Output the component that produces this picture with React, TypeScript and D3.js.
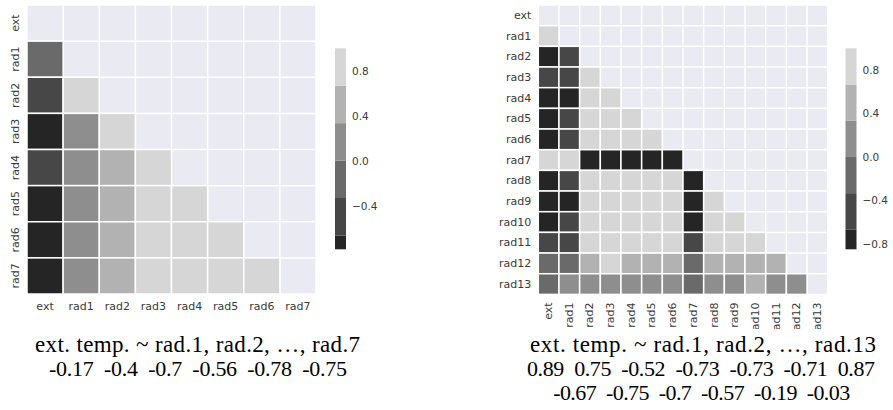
import * as d3 from 'd3';

// lower-triangle correlations, row i holds corr with vars[0..i-1]
const leftVars = ['ext', 'rad1', 'rad2', 'rad3', 'rad4', 'rad5', 'rad6', 'rad7'];
const leftCorr: number[][] = [
  [],
  [-0.17],
  [-0.4, 0.8],
  [-0.7, 0.2, 0.85],
  [-0.56, 0.25, 0.5, 0.9],
  [-0.78, 0.2, 0.5, 0.9, 0.9],
  [-0.75, 0.2, 0.5, 0.88, 0.9, 0.9],
  [-0.79, 0.25, 0.5, 0.85, 0.88, 0.9, 0.92],
];

const rightVars = ['ext', 'rad1', 'rad2', 'rad3', 'rad4', 'rad5', 'rad6', 'rad7',
  'rad8', 'rad9', 'rad10', 'rad11', 'rad12', 'rad13'];
const rightCorr: number[][] = [
  [],
  [0.89],
  [-0.85, -0.6],
  [-0.52, -0.55, 0.8],
  [-0.73, -0.75, 0.85, 0.9],
  [-0.73, -0.6, 0.85, 0.9, 0.9],
  [-0.71, -0.6, 0.8, 0.85, 0.9, 0.9],
  [0.87, 0.75, -0.8, -0.8, -0.8, -0.78, -0.8],
  [-0.67, -0.6, 0.85, 0.85, 0.85, 0.85, 0.85, -0.8],
  [-0.75, -0.7, 0.85, 0.85, 0.85, 0.85, 0.85, -0.78, 0.9],
  [-0.7, -0.6, 0.85, 0.85, 0.85, 0.85, 0.85, -0.75, 0.9, 0.9],
  [-0.57, -0.55, 0.8, 0.8, 0.8, 0.8, 0.8, -0.6, 0.85, 0.85, 0.85],
  [-0.19, -0.2, 0.5, 0.7, 0.5, 0.55, 0.5, -0.25, 0.55, 0.55, 0.5, 0.5],
  [-0.03, 0.2, 0.2, 0.15, 0.2, 0.2, 0.2, -0.1, 0.25, 0.25, 0.45, 0.2, 0.25],
];

const leftCaption = [
  'ext. temp. ~ rad.1, rad.2, …, rad.7',
  '-0.17  -0.4  -0.7  -0.56  -0.78  -0.75',
];
const rightCaption = [
  'ext. temp. ~ rad.1, rad.2, …, rad.13',
  '0.89  0.75  -0.52  -0.73  -0.73  -0.71  0.87',
  '-0.67  -0.75  -0.7  -0.57  -0.19  -0.03',
];

const bandEdges = [-1, -2 / 3, -1 / 3, 0, 1 / 3, 2 / 3, 1];
const greys = ['#252525', '#474747', '#6a6a6a', '#8e8e8e', '#b2b2b2', '#d6d6d6'];
const cbTicks = [0.8, 0.4, 0.0, -0.4, -0.8];

const color = d3.scaleThreshold<number, string>()
  .domain(bandEdges.slice(1, -1))
  .range(greys);

const fmt = d3.format('.1f');
const labelFont = '"DejaVu Sans", sans-serif';
const textCol = '#3a3a3a';

interface Caption {
  lines: string[];
  cx: number[];
  widths: number[];
  baselines: number[];
}

interface PanelProps {
  vars: string[];
  corr: number[][];
  x0: number;
  size: number;
  cbX: number;
  vmin: number;
  rotateX: boolean;
  caption: Caption;
  maskLeft: number;
}

const Panel = ({ vars, corr, x0, size, cbX, vmin, rotateX, caption, maskLeft }: PanelProps) => {
  const y0 = 5;
  const x = d3.scaleBand().domain(vars).range([x0, x0 + size]);
  const y = d3.scaleBand().domain(vars).range([y0, y0 + size]);
  const bw = x.bandwidth();

  const cells: { r: string; c: string; v: number }[] = [];
  corr.forEach((row, i) => row.forEach((v, j) => cells.push({ r: vars[i], c: vars[j], v })));

  // colorbar
  const cbTop = 48.3, cbBottom = 249.3, cbW = 11;
  const cy = d3.scaleLinear().domain([vmin, 1]).range([cbBottom, cbTop]);
  const bands = d3.range(greys.length)
    .map((i) => ({ lo: Math.max(bandEdges[i], vmin), hi: bandEdges[i + 1], c: greys[i] }))
    .filter((b) => b.hi > vmin);

  const edges = d3.range(vars.length + 1).map((i) => x0 + i * bw);

  return (
    <g>
      <rect x={x0} y={y0} width={size} height={size} fill='#eaeaf2' />
      {edges.map((e, i) => (
        <g key={'g' + i}>
          <line x1={e} x2={e} y1={y0} y2={y0 + size} stroke='#fff' strokeWidth={1.5} />
          <line x1={x0} x2={x0 + size} y1={y0 + i * bw} y2={y0 + i * bw} stroke='#fff' strokeWidth={1.5} />
        </g>
      ))}
      {cells.map((d) => (
        <rect key={d.r + d.c} x={x(d.c)} y={y(d.r)} width={bw} height={bw}
          fill={color(d.v)} stroke='#fff' strokeWidth={1.5} />
      ))}

      {/* y labels */}
      {vars.map((v) => rotateX ? (
        <text key={'y' + v} x={x0 - 7} y={(y(v) as number) + bw / 2} textAnchor='end'
          dominantBaseline='central' fontSize={11} fontFamily={labelFont} fill={textCol}>{v}</text>
      ) : (
        <text key={'y' + v} transform={`translate(15,${(y(v) as number) + bw / 2}) rotate(-90)`}
          textAnchor='middle' dominantBaseline='central' fontSize={11} fontFamily={labelFont}
          fill={textCol}>{v}</text>
      ))}

      {/* x labels */}
      {vars.map((v) => rotateX ? (
        <text key={'x' + v} transform={`translate(${(x(v) as number) + bw / 2},${y0 + size + 8}) rotate(-90)`}
          textAnchor='end' dominantBaseline='central' fontSize={11} fontFamily={labelFont}
          fill={textCol}>{v}</text>
      ) : (
        <text key={'x' + v} x={(x(v) as number) + bw / 2} y={y0 + size + 12} textAnchor='middle'
          dominantBaseline='central' fontSize={11} fontFamily={labelFont} fill={textCol}>{v}</text>
      ))}

      {/* colorbar */}
      {bands.map((b, i) => (
        <rect key={'b' + i} x={cbX} y={cy(b.hi)} width={cbW} height={cy(b.lo) - cy(b.hi)} fill={b.c} />
      ))}
      {cbTicks.filter((t) => t >= vmin).map((t) => (
        <text key={'t' + t} x={cbX + cbW + 6} y={cy(t)} dominantBaseline='central' fontSize={10.5}
          fontFamily={labelFont} fill={textCol}>{fmt(t)}</text>
      ))}

      {/* caption */}
      <rect x={maskLeft} y={329} width={420} height={81} fill='#fff' />
      {caption.lines.map((s, i) => (
        <text key={'c' + i} x={caption.cx[i]} y={caption.baselines[i]} textAnchor='middle'
          textLength={caption.widths[i]} lengthAdjust='spacing' xmlSpace='preserve'
          style={{ whiteSpace: 'pre' }}
          fontSize={i === 0 ? 23 : 22} fontFamily='"Liberation Serif", "Times New Roman", serif'
          fill='#000'>{s}</text>
      ))}
    </g>
  );
};

const App = () => (
  <svg width={893} height={410} style={{ position: 'absolute', left: 0, top: 0, background: '#fff' }}>
    <Panel vars={leftVars} corr={leftCorr} x0={27} size={289} cbX={335} vmin={-0.79}
      rotateX={false} maskLeft={0}
      caption={{ lines: leftCaption, cx: [197.5, 198], widths: [325, 298], baselines: [351.5, 375.5] }} />
    <Panel vars={rightVars} corr={rightCorr} x0={538.3} size={289.4} cbX={845.5} vmin={-0.85}
      rotateX={true} maskLeft={480}
      caption={{ lines: rightCaption, cx: [703, 701, 701.7], widths: [346, 348, 297], baselines: [351.5, 375.5, 400] }} />
  </svg>
);

export default App;
